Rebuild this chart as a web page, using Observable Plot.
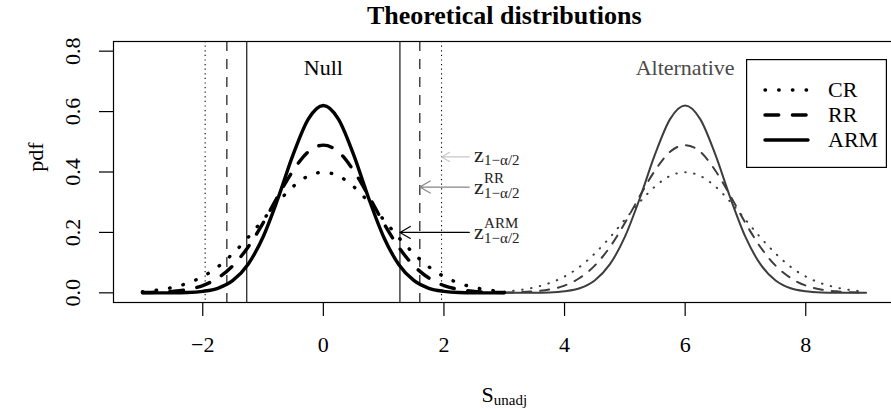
<!DOCTYPE html>
<html><head><meta charset="utf-8">
<script src="https://cdn.jsdelivr.net/npm/d3@7"></script>
<script src="https://cdn.jsdelivr.net/npm/@observablehq/plot@0.6"></script>
<style>
html,body{margin:0;padding:0;background:#fff;overflow:hidden}
#wrap{position:relative;width:891px;height:409px}
#legend{position:absolute;left:746px;top:59px;width:141px;height:109px;background:#fff}
svg{font-family:"Liberation Serif","Times New Roman",serif}
</style></head><body><div id="wrap"></div>
<script>
// ---- data ----
const nullX = [-3,-2.75,-2.5,-2.25,-2,-1.75,-1.5,-1.25,-1,-0.75,-0.5,-0.25,0,0.25,0.5,0.75,1,1.25,1.5,1.75,2,2.25,2.5,2.75,3];
const altX  = [3,3.25,3.5,3.75,4,4.25,4.5,4.75,5,5.25,5.5,5.75,6,6.25,6.5,6.75,7,7.25,7.5,7.75,8,8.25,8.5,8.75,9];
const crPdf  = [0.004,0.009,0.018,0.032,0.054,0.086,0.130,0.183,0.242,0.301,0.352,0.387,0.399,0.387,0.352,0.301,0.242,0.183,0.130,0.086,0.054,0.032,0.018,0.009,0.004];
const rrPdf  = [0.001,0.002,0.005,0.011,0.024,0.049,0.090,0.151,0.231,0.321,0.405,0.467,0.489,0.467,0.405,0.321,0.231,0.151,0.090,0.049,0.024,0.011,0.005,0.002,0.001];
const armPdf = [0.000,0.000,0.000,0.001,0.005,0.015,0.041,0.094,0.185,0.314,0.458,0.575,0.620,0.575,0.458,0.314,0.185,0.094,0.041,0.015,0.005,0.001,0.000,0.000,0.000];
const crCrit  = [-1.96, 1.96];
const rrCrit  = [-1.6, 1.6];
const armCrit = [-1.27, 1.27];
const xTicks = [-2,0,2,4,6,8];
const yTicks = [0,0.2,0.4,0.6,0.8];
const seriesNames = ["CR","RR","ARM"];
const groupLabels = [{x:0, y:0.745, text:"Null"},{x:6, y:0.745, text:"Alternative"}];
const critLabels = [
  {from:2.42, to:1.96, y:0.45, sup:"",    sub:"1\u2212\u03b1/2", color:"#c8c8c8"},
  {from:2.42, to:1.6,  y:0.35, sup:"RR",  sub:"1\u2212\u03b1/2", color:"#858585"},
  {from:2.42, to:1.27, y:0.20, sup:"ARM", sub:"1\u2212\u03b1/2", color:"#000000"}
];
const labelX = 2.5;

// ---- build tables ----
const pdfs = {CR: crPdf, RR: rrPdf, ARM: armPdf};
const rows = [];
for (const s of seriesNames) {
  nullX.forEach((x,i)=>rows.push({x, y: pdfs[s][i], s, g:"null"}));
  altX.forEach((x,i)=>rows.push({x, y: pdfs[s][i], s, g:"alt"}));
}
const thick = {CR:"0.5,13.2", RR:"13.7,13.7", ARM:null};
const thin  = {CR:"0.5,8.5",  RR:"9,9",       ARM:null};

const font = '"Liberation Serif","Times New Roman",serif';
const T = {fontFamily:font, fill:"#000", lineAnchor:"middle"};
const marks = [];
for (const s of seriesNames) {
  marks.push(Plot.line(rows.filter(r=>r.s===s && r.g==="alt"), {
    x:"x", y:"y", stroke:"#3d3d3d", strokeWidth:2, curve:"monotone-x",
    strokeDasharray: thin[s] ?? undefined, strokeLinecap:"round"}));
}
for (const s of seriesNames) {
  marks.push(Plot.line(rows.filter(r=>r.s===s && r.g==="null"), {
    x:"x", y:"y", stroke:"#000", strokeWidth:3.4, curve:"monotone-x",
    strokeDasharray: thick[s] ?? undefined, strokeLinecap:"round"}));
}
marks.push(Plot.ruleX(crCrit,  {stroke:"#000", strokeWidth:1.1, strokeDasharray:"1.2,3.4"}));
marks.push(Plot.ruleX(rrCrit,  {stroke:"#000", strokeWidth:1.1, strokeDasharray:"10,8"}));
marks.push(Plot.ruleX(armCrit, {stroke:"#000", strokeWidth:1.1}));
marks.push(Plot.frame({stroke:"#000", strokeWidth:1.2}));
marks.push(Plot.axisX({ticks:xTicks, tickSize:14, tickFormat:()=>"", label:null, strokeWidth:1.2}));
marks.push(Plot.axisY({ticks:yTicks, tickSize:14, tickFormat:()=>"", label:null, strokeWidth:1.2}));
marks.push(Plot.text(xTicks, {...T, x:d=>d, frameAnchor:"bottom", textAnchor:"middle", dy:42.5, text:d=>d3.format("d")(d).replace("-","\u2212"), fontSize:22}));
marks.push(Plot.text(yTicks, {...T, y:d=>d, frameAnchor:"left", textAnchor:"middle", dx:-40.5, rotate:-90, text:d=>d3.format(".1f")(d), fontSize:22}));
marks.push(Plot.text(groupLabels.slice(0,1), {...T, x:"x", y:"y", text:"text", fontSize:22}));
marks.push(Plot.text(groupLabels.slice(1), {...T, x:"x", y:"y", text:"text", fontSize:22, fill:"#4a4a4a"}));
for (const c of critLabels) {
  marks.push(Plot.arrow([c], {x1:"from", x2:"to", y1:"y", y2:"y", stroke:c.color, strokeWidth:1.2, headLength:15, headAngle:60}));
  const hasSup = c.sup !== "";
  marks.push(Plot.text([c], {...T, x:()=>labelX, y:"y", text:()=>"z", textAnchor:"start", dy: hasSup ? 0 : -2, fontSize:22, fill:"#222"}));
  marks.push(Plot.text([c], {...T, x:()=>labelX, y:"y", text:"sub", textAnchor:"start", dx:10, dy: hasSup ? 6.2 : 3.2, fontSize:15, fill:"#222"}));
  if (hasSup) marks.push(Plot.text([c], {...T, x:()=>labelX, y:"y", text:"sup", textAnchor:"start", dx:10, dy:-8.8, fontSize:15, fill:"#222"}));
}
// titles
marks.push(Plot.text(["Theoretical distributions"], {...T, frameAnchor:"top", textAnchor:"middle", dy:-25.8, text:d=>d, fontSize:26, fontWeight:"bold"}));
marks.push(Plot.text(["S"], {...T, frameAnchor:"bottom", textAnchor:"start", dx:-22.75, dy:92, text:d=>d, fontSize:22}));
marks.push(Plot.text(["unadj"], {...T, frameAnchor:"bottom", textAnchor:"start", dx:-10.5, dy:97.5, text:d=>d, fontSize:15}));
marks.push(Plot.text(["pdf"], {...T, frameAnchor:"left", textAnchor:"middle", rotate:-90, dx:-78, dy:-15, text:d=>d, fontSize:22}));

const plot = Plot.plot({
  width: 891, height: 409,
  marginLeft: 113, marginRight: -3.5, marginTop: 41, marginBottom: 107,
  x: {domain:[-3.48, 9.48]},
  y: {domain:[-0.032, 0.832]},
  style: {fontFamily: font, background:"#fff", overflow:"visible"},
  marks
});
const wrap = document.getElementById("wrap");
wrap.appendChild(plot);

// legend
const leg = document.createElement("div");
leg.id = "legend";
const ls = d3.create("svg").attr("width",141).attr("height",109);
ls.append("rect").attr("x",0.6).attr("y",0.6).attr("width",139.8).attr("height",107.8).attr("fill","#fff").attr("stroke","#000").attr("stroke-width",1.2);
seriesNames.forEach((s,i)=>{
  const cy = 31 + i*25;
  ls.append("line").attr("x1",19).attr("x2",62).attr("y1",cy).attr("y2",cy)
    .attr("stroke","#000").attr("stroke-width",3.4).attr("stroke-linecap","round")
    .attr("stroke-dasharray", thick[s] ?? null);
  ls.append("text").attr("x",82).attr("y",cy).attr("dy","0.32em").attr("font-size",22)
    .attr("font-family",font).text(s);
});
leg.appendChild(ls.node());
wrap.appendChild(leg);
</script></body></html>
